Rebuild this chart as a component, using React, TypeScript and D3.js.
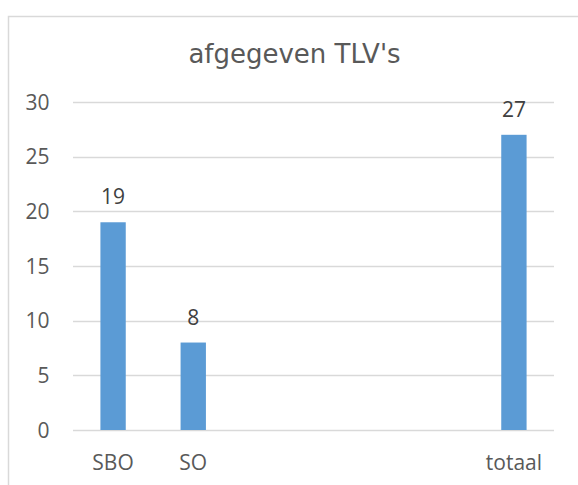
import React from "react";
import * as d3 from "d3";

const categories = ["SBO", "SO", "c3", "c4", "c5", "totaal"];
const tickLabels = ["SBO", "SO", "", "", "", "totaal"];
const values: (number | null)[] = [19, 8, null, null, null, 27];
const yTicks = [0, 5, 10, 15, 20, 25, 30];
const title = "afgegeven TLV's";

const W = 578;
const H = 485;
const plotLeft = 73;
const plotRight = 554;
const plotTop = 102;
const plotBottom = 430;

export default function App() {
  const x = d3
    .scaleBand<string>()
    .domain(categories)
    .range([plotLeft, plotRight])
    .paddingInner(0.684)
    .paddingOuter(0.342);
  const y = d3.scaleLinear().domain([0, 30]).range([plotBottom, plotTop]);

  const labelFont = "'Open Sans', sans-serif";
  const fs = 21;

  return (
    <svg
      width={W}
      height={H}
      style={{ position: "absolute", left: 0, top: 0, background: "#fff" }}
    >
      <rect x={8.5} y={16.5} width={700} height={700} fill="#fff" stroke="#d9d9d9" strokeWidth={1.5} />
      <text
        x={294.5}
        y={62.5}
        textAnchor="middle"
        fontFamily="'DejaVu Sans', sans-serif"
        fontSize={26}
        fill="#595959"
      >
        {title}
      </text>
      {yTicks.map((t) => (
        <g key={t}>
          <line
            x1={plotLeft}
            x2={plotRight}
            y1={Math.round(y(t)) + 0.5}
            y2={Math.round(y(t)) + 0.5}
            stroke="#d9d9d9"
            strokeWidth={1.3}
          />
          <text
            x={49.5}
            y={y(t)}
            dy="0.36em"
            textAnchor="end"
            fontFamily={labelFont}
            fontSize={fs}
            fill="#595959"
          >
            {t}
          </text>
        </g>
      ))}
      {categories.map((c, i) => {
        const v = values[i];
        const cx = (x(c) as number) + x.bandwidth() / 2;
        return (
          <g key={c}>
            {v !== null && (
              <>
                <rect
                  x={x(c)}
                  y={y(v)}
                  width={x.bandwidth()}
                  height={y(0) - y(v)}
                  fill="#5b9bd5"
                />
                <text
                  x={cx}
                  y={y(v) - 18}
                  textAnchor="middle"
                  fontFamily={labelFont}
                  fontSize={fs}
                  fill="#404040"
                >
                  {v}
                </text>
              </>
            )}
            <text
              x={cx}
              y={470}
              textAnchor="middle"
              fontFamily={labelFont}
              fontSize={fs}
              fill="#595959"
            >
              {tickLabels[i]}
            </text>
          </g>
        );
      })}
    </svg>
  );
}
